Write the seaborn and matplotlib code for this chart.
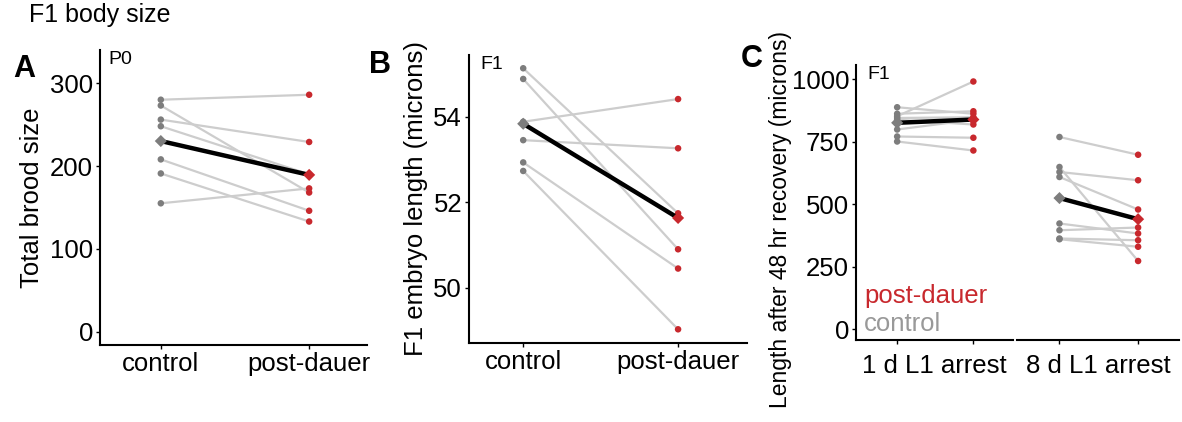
import numpy as np
import pandas as pd
import matplotlib
matplotlib.use("Agg")
import matplotlib.pyplot as plt
import seaborn as sns

# ---- data (paired: index i in control goes with index i in post-dauer)
conditions = ["control", "post-dauer"]

brood_control = [280, 273, 256, 248, 208, 191, 155]
brood_post = [286, 168, 229, 190, 146, 133, 173]

embryo_control = [55.13, 54.88, 53.88, 53.45, 52.93, 52.73]
embryo_post = [51.74, 50.90, 54.41, 53.26, 50.45, 49.03]

arrest_labels = ["1 d L1 arrest", "8 d L1 arrest"]
len1d_control = [888, 862, 852, 845, 838, 799, 771, 751]
len1d_post = [862, 872, 991, 848, 819, 838, 766, 715]
len8d_control = [769, 649, 629, 609, 423, 396, 363, 360]
len8d_post = [698, 273, 596, 479, 383, 407, 356, 330]

GRAY = "#7d7d7d"
RED = "#c8282d"
PAIR = "#cdcdcd"
FS = 18.5

sns.set_theme(style="ticks")
plt.rcParams["font.family"] = ["Liberation Sans", "DejaVu Sans"]
plt.rcParams["axes.linewidth"] = 1.5
plt.rcParams["text.color"] = "black"
plt.rcParams["axes.labelcolor"] = "black"


def make_df(ctrl, post):
    n = len(ctrl)
    df = pd.DataFrame({
        "pair": list(range(n)) * 2,
        "cond": ["control"] * n + ["post-dauer"] * n,
        "value": list(ctrl) + list(post),
    })
    df["x"] = df["cond"].map({c: i for i, c in enumerate(conditions)})
    return df


def paired_panel(ax, ctrl, post):
    df = make_df(ctrl, post)
    sns.lineplot(data=df, x="x", y="value", units="pair", estimator=None,
                 color=PAIR, lw=1.6, ax=ax, legend=False, zorder=1)
    sns.scatterplot(data=df, x="x", y="value", hue="cond",
                    palette={"control": GRAY, "post-dauer": RED},
                    s=22, linewidth=0, ax=ax, legend=False, zorder=2)
    means = df.groupby("x", as_index=False)["value"].mean()
    means["cond"] = conditions
    sns.lineplot(data=means, x="x", y="value", color="black", lw=3.2,
                 ax=ax, legend=False, zorder=3)
    sns.scatterplot(data=means, x="x", y="value", hue="cond",
                    palette={"control": GRAY, "post-dauer": RED},
                    marker="D", s=38, linewidth=0, ax=ax, legend=False, zorder=4)
    ax.set_xlabel("")
    ax.set_ylabel("")
    for side in ["top", "right"]:
        ax.spines[side].set_visible(False)
    ax.spines["left"].set_color("black")
    ax.spines["bottom"].set_color("black")
    ax.tick_params(axis="both", labelsize=FS, length=3, width=1, colors="black",
                   pad=2)


fig = plt.figure(figsize=(11.82, 4.22), dpi=100)
W, H = 1182, 422


def px_axes(left, right, top, bottom):
    return fig.add_axes([left / W, (H - bottom) / H, (right - left) / W, (bottom - top) / H])


# ---- panel A
axA = px_axes(100, 367, 50, 345)
paired_panel(axA, brood_control, brood_post)
axA.set_xlim(-0.41, 1.39)
axA.set_ylim(-16, 340)
axA.set_yticks([0, 100, 200, 300])
axA.set_xticks([0, 1])
axA.set_xticklabels(conditions)
axA.set_ylabel("Total brood size", fontsize=FS, labelpad=4)
axA.text(0.03, 0.995, "P0", transform=axA.transAxes, fontsize=14, va="top", ha="left")

# ---- panel B
axB = px_axes(469, 747, 55, 343)
paired_panel(axB, embryo_control, embryo_post)
axB.set_xlim(-0.35, 1.445)
axB.set_ylim(48.71, 55.44)
axB.set_yticks([50, 52, 54])
axB.set_xticks([0, 1])
axB.set_xticklabels(conditions)
axB.set_ylabel("F1 embryo length (microns)", fontsize=FS, labelpad=4)
axB.text(0.04, 0.995, "F1", transform=axB.transAxes, fontsize=14, va="top", ha="left")

# ---- panel C (two facets sharing y)
axC1 = px_axes(856, 1013, 65, 340)
axC2 = px_axes(1017, 1179, 65, 340)
paired_panel(axC1, len1d_control, len1d_post)
paired_panel(axC2, len8d_control, len8d_post)
for ax, lab in zip([axC1, axC2], arrest_labels):
    ax.set_xlim(-0.54, 1.52)
    ax.set_ylim(-43, 1057)
    ax.set_xticks([0, 1])
    ax.set_xticklabels([])
    ax.set_xlabel(lab, fontsize=FS, labelpad=5)
axC1.set_yticks([0, 250, 500, 750, 1000])
axC1.set_ylabel("Length after 48 hr recovery (microns)", fontsize=16.5)
axC1.yaxis.set_label_coords(-0.41, 0.44)
axC2.spines["left"].set_visible(False)
axC2.tick_params(axis="y", left=False, labelleft=False)
axC1.text(0.07, 0.995, "F1", transform=axC1.transAxes, fontsize=14, va="top", ha="left")
axC1.text(0.05, 0.115, "post-dauer", transform=axC1.transAxes, fontsize=FS,
          color=RED, va="bottom", ha="left")
axC1.text(0.05, 0.015, "control", transform=axC1.transAxes, fontsize=FS,
          color="#999999", va="bottom", ha="left")

# ---- figure labels
fig.text(29 / W, 1 - 15 / H, "F1 body size", fontsize=18, va="center", ha="left")
fig.text(24 / W, 1 - 69 / H, "A", fontsize=22, fontweight="bold", va="center", ha="center")
fig.text(380 / W, 1 - 65 / H, "B", fontsize=22, fontweight="bold", va="center", ha="center")
fig.text(752 / W, 1 - 59 / H, "C", fontsize=22, fontweight="bold", va="center", ha="center")

fig.savefig("out.png", dpi=100)
